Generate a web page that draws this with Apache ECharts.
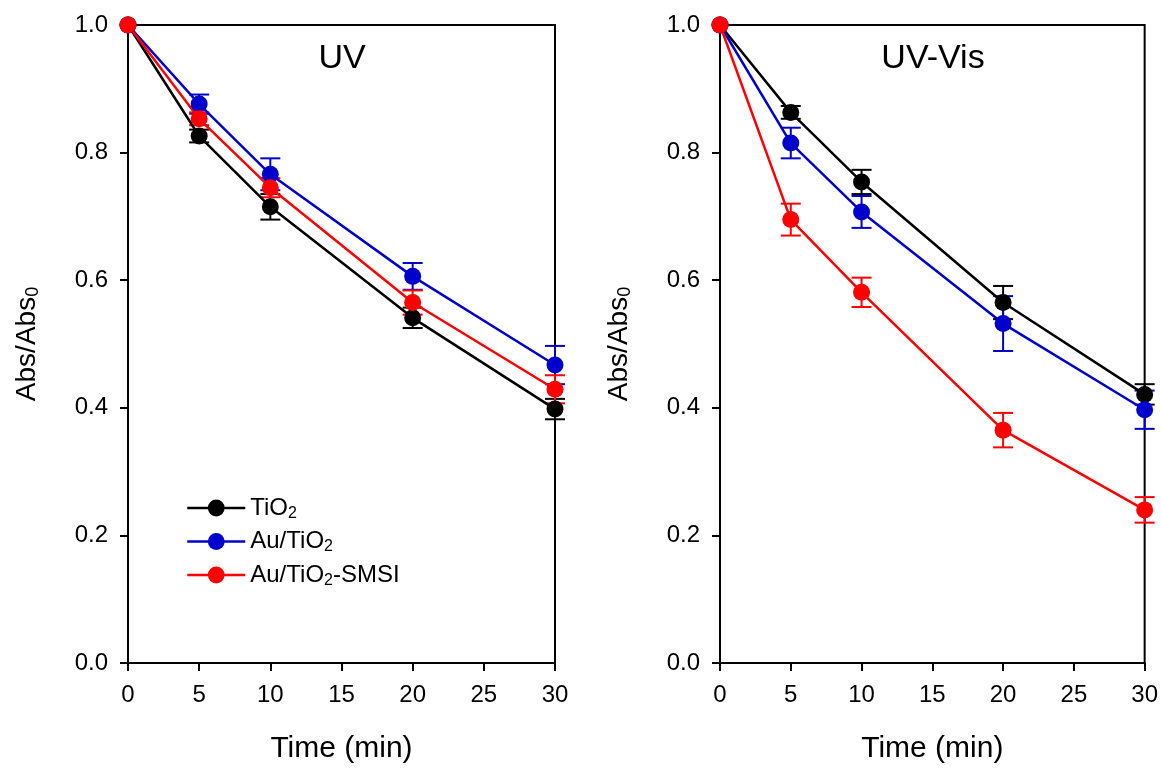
<!DOCTYPE html>
<html>
<head>
<meta charset="utf-8">
<script src="https://cdn.jsdelivr.net/npm/echarts@6/dist/echarts.min.js"></script>
<style>
  html, body { margin: 0; padding: 0; background: #fff; }
  #chart { width: 1161px; height: 769px; }
</style>
</head>
<body>
<div id="chart"></div>
<script>
// time points (min)
var times = [0, 5, 10, 20, 30];
var xTicks = [0, 5, 10, 15, 20, 25, 30];

// UV panel
var uvTiO2 = [1.0, 0.826, 0.715, 0.541, 0.398];
var uvTiO2Err = [0, 0.010, 0.020, 0.016, 0.016];
var uvAu = [1.0, 0.876, 0.766, 0.606, 0.467];
var uvAuErr = [0, 0.015, 0.025, 0.021, 0.030];
var uvSmsi = [1.0, 0.853, 0.745, 0.565, 0.429];
var uvSmsiErr = [0, 0.010, 0.015, 0.019, 0.022];

// UV-Vis panel
var visTiO2 = [1.0, 0.863, 0.754, 0.565, 0.421];
var visTiO2Err = [0, 0.010, 0.019, 0.026, 0.016];
var visAu = [1.0, 0.815, 0.707, 0.532, 0.397];
var visAuErr = [0, 0.024, 0.025, 0.043, 0.030];
var visSmsi = [1.0, 0.695, 0.581, 0.365, 0.240];
var visSmsiErr = [0, 0.025, 0.023, 0.027, 0.020];

var names = ['TiO2', 'Au/TiO2', 'Au/TiO2-SMSI'];
var richNames = {
    'TiO2': 'TiO{s|2}',
    'Au/TiO2': 'Au/TiO{s|2}',
    'Au/TiO2-SMSI': 'Au/TiO{s|2}-SMSI'
};
var colors = ['#000000', '#0000cc', '#ff0000'];

var font = 'Liberation Sans, Arial, sans-serif';

function pairs(vals) {
    return times.map(function (t, i) { return [t, vals[i]]; });
}
function errPairs(vals, errs) {
    return times.map(function (t, i) { return [t, vals[i], errs[i]]; });
}

function errRender(params, api) {
    var x = api.value(0), y = api.value(1), e = api.value(2);
    if (!e) return;
    var top = api.coord([x, y + e]);
    var bot = api.coord([x, y - e]);
    var half = 10;
    var style = { stroke: api.visual('color'), lineWidth: 2 };
    return {
        type: 'group',
        children: [
            { type: 'line', shape: { x1: top[0], y1: top[1], x2: bot[0], y2: bot[1] }, style: style },
            { type: 'line', shape: { x1: top[0] - half, y1: top[1], x2: top[0] + half, y2: top[1] }, style: style },
            { type: 'line', shape: { x1: bot[0] - half, y1: bot[1], x2: bot[0] + half, y2: bot[1] }, style: style }
        ]
    };
}

function makeSeries(idx, sets) {
    var out = [];
    sets.forEach(function (s, k) {
        out.push({
            name: names[k],
            type: 'line',
            xAxisIndex: idx,
            yAxisIndex: idx,
            data: pairs(s[0]),
            symbol: 'circle',
            symbolSize: 17,
            color: colors[k],
            lineStyle: { width: 2.5, color: colors[k] },
            itemStyle: { color: colors[k] },
            animation: false
        });
        out.push({
            name: names[k],
            type: 'custom',
            xAxisIndex: idx,
            yAxisIndex: idx,
            data: errPairs(s[0], s[1]),
            renderItem: errRender,
            color: colors[k],
            itemStyle: { color: colors[k] },
            encode: { x: 0, y: 1 },
            animation: false
        });
    });
    return out;
}

function xAxisOpt(idx) {
    return {
        type: 'value', gridIndex: idx, min: 0, max: 30, interval: 5,
        name: 'Time (min)', nameLocation: 'middle', nameGap: 71,
        nameTextStyle: { fontSize: 30, color: '#000', fontFamily: font },
        axisLine: { lineStyle: { color: '#000', width: 2 } },
        axisTick: { inside: false, length: 8, lineStyle: { color: '#000', width: 2 } },
        axisLabel: { fontSize: 24, color: '#000', margin: 20, fontFamily: font },
        splitLine: { show: false }
    };
}
function yAxisOpt(idx) {
    return {
        type: 'value', gridIndex: idx, min: 0, max: 1, interval: 0.2,
        name: 'Abs/Abs{s|0}', nameLocation: 'middle', nameGap: 86,
        nameTextStyle: {
            fontSize: 28, color: '#000', fontFamily: font,
            rich: { s: { fontSize: 18, color: '#000', fontFamily: font, padding: [12, 0, 0, 0] } }
        },
        axisLine: { lineStyle: { color: '#000', width: 2 } },
        axisTick: { inside: false, length: 8, lineStyle: { color: '#000', width: 2 } },
        axisLabel: {
            fontSize: 24, color: '#000', margin: 20, fontFamily: font,
            formatter: function (v) { return v.toFixed(1); }
        },
        splitLine: { show: false }
    };
}

var option = {
    backgroundColor: '#fff',
    animation: false,
    title: [
        { text: 'UV', left: 337, top: 37, textAlign: 'center',
          textStyle: { fontSize: 34, fontWeight: 'normal', color: '#000', fontFamily: font } },
        { text: 'UV-Vis', left: 928, top: 37, textAlign: 'center',
          textStyle: { fontSize: 34, fontWeight: 'normal', color: '#000', fontFamily: font } }
    ],
    grid: [
        { left: 128, top: 25, width: 427, height: 639, show: true, borderColor: '#000', borderWidth: 2, backgroundColor: 'transparent' },
        { left: 720, top: 25, width: 427, height: 639, show: true, borderColor: '#000', borderWidth: 2, backgroundColor: 'transparent' }
    ],
    legend: {
        data: names,
        orient: 'vertical',
        left: 181,
        top: 491,
        itemWidth: 58,
        itemHeight: 21,
        itemGap: 8,
        formatter: function (n) { return richNames[n]; },
        lineStyle: { width: 2.5 },
        textStyle: {
            fontSize: 24, color: '#000', fontFamily: font,
            rich: { s: { fontSize: 16, color: '#000', fontFamily: font, padding: [11, 0, 0, 0] } }
        }
    },
    xAxis: [xAxisOpt(0), xAxisOpt(1)],
    yAxis: [yAxisOpt(0), yAxisOpt(1)],
    series: [].concat(
        makeSeries(0, [[uvTiO2, uvTiO2Err], [uvAu, uvAuErr], [uvSmsi, uvSmsiErr]]),
        makeSeries(1, [[visTiO2, visTiO2Err], [visAu, visAuErr], [visSmsi, visSmsiErr]])
    )
};

var chart = echarts.init(document.getElementById('chart'));
chart.setOption(option);
</script>
</body>
</html>
